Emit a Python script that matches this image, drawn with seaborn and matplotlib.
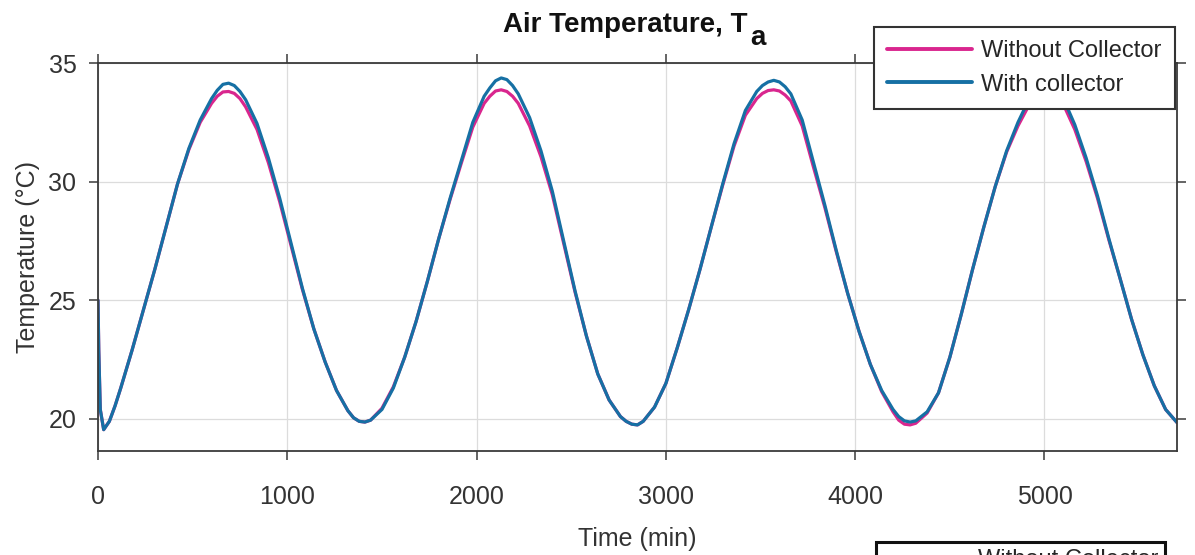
import matplotlib
matplotlib.use("Agg")
import matplotlib.pyplot as plt
import seaborn as sns
import pandas as pd

# ---- data (time in min, temperature in degC) ----
time_min = [0, 4, 12, 30, 60, 90, 120, 150, 180, 240,
            300, 360, 420, 480, 540, 600, 630, 660, 690, 720,
            750, 780, 840, 900, 960, 1020, 1080, 1140, 1200, 1260,
            1320, 1350, 1380, 1410, 1440, 1500, 1560, 1620, 1680, 1740,
            1800, 1860, 1920, 1980, 2040, 2070, 2100, 2130, 2160, 2190,
            2220, 2280, 2340, 2400, 2460, 2520, 2580, 2640, 2700, 2760,
            2790, 2820, 2850, 2880, 2940, 3000, 3060, 3120, 3180, 3240,
            3300, 3360, 3420, 3480, 3510, 3540, 3570, 3600, 3630, 3660,
            3720, 3780, 3840, 3900, 3960, 4020, 4080, 4140, 4200, 4230,
            4260, 4290, 4320, 4380, 4440, 4500, 4560, 4620, 4680, 4740,
            4800, 4860, 4920, 4950, 4980, 5010, 5040, 5070, 5100, 5160,
            5220, 5280, 5340, 5400, 5460, 5520, 5580, 5640, 5700]

with_collector = [25.0, 22.9, 20.4, 19.55, 19.9, 20.55, 21.3, 22.1, 22.9, 24.6,
                  26.3, 28.1, 29.9, 31.4, 32.6, 33.5, 33.85, 34.1, 34.15, 34.05,
                  33.8, 33.45, 32.45, 31.0, 29.3, 27.4, 25.5, 23.8, 22.4, 21.2,
                  20.35, 20.05, 19.9, 19.87, 19.95, 20.4, 21.3, 22.6, 24.1, 25.8,
                  27.6, 29.3, 30.9, 32.5, 33.6, 33.95, 34.25, 34.37, 34.3, 34.05,
                  33.7, 32.7, 31.3, 29.6, 27.5, 25.4, 23.5, 21.9, 20.8, 20.1,
                  19.9, 19.78, 19.75, 19.9, 20.5, 21.5, 23.0, 24.6, 26.3, 28.1,
                  29.9, 31.6, 33.0, 33.8, 34.05, 34.2, 34.27, 34.2, 34.0, 33.7,
                  32.6, 30.8, 29.0, 27.1, 25.3, 23.7, 22.3, 21.2, 20.4, 20.1,
                  19.92, 19.87, 19.92, 20.3, 21.1, 22.6, 24.4, 26.3, 28.1, 29.8,
                  31.3, 32.5, 33.5, 33.85, 34.05, 34.2, 34.1, 33.85, 33.5, 32.4,
                  31.0, 29.4, 27.6, 25.9, 24.2, 22.7, 21.4, 20.4, 19.85]

without_collector = [25.0, 22.9, 20.4, 19.55, 19.9, 20.55, 21.3, 22.1, 22.9, 24.6,
                     26.3, 28.1, 29.9, 31.35, 32.5, 33.3, 33.6, 33.78, 33.8, 33.72,
                     33.5, 33.15, 32.2, 30.8, 29.15, 27.3, 25.45, 23.8, 22.4, 21.2,
                     20.35, 20.05, 19.9, 19.87, 19.95, 20.45, 21.35, 22.6, 24.1, 25.8,
                     27.6, 29.25, 30.8, 32.3, 33.3, 33.6, 33.82, 33.87, 33.8, 33.6,
                     33.3, 32.35, 31.05, 29.45, 27.4, 25.35, 23.5, 21.9, 20.8, 20.1,
                     19.9, 19.78, 19.75, 19.9, 20.5, 21.5, 23.0, 24.6, 26.3, 28.1,
                     29.85, 31.5, 32.8, 33.5, 33.72, 33.84, 33.87, 33.82, 33.65, 33.4,
                     32.35, 30.6, 28.9, 27.05, 25.3, 23.7, 22.3, 21.15, 20.3, 19.95,
                     19.78, 19.75, 19.82, 20.25, 21.1, 22.6, 24.4, 26.3, 28.1, 29.8,
                     31.25, 32.35, 33.25, 33.55, 33.75, 33.88, 33.82, 33.6, 33.25, 32.2,
                     30.85, 29.3, 27.55, 25.9, 24.2, 22.7, 21.4, 20.4, 19.85]

series_names = ["Without Collector", "With collector"]
series_colors = ["#D9268E", "#1670A4"]
x_ticks = [0, 1000, 2000, 3000, 4000, 5000]
y_ticks = [20, 25, 30, 35]
title_main = "Air Temperature, T"
title_sub = "a"

sns.set_theme(style="white")
plt.rcParams["font.family"] = ["Liberation Sans", "DejaVu Sans"]

df = pd.DataFrame({
    "time": time_min * 2,
    "temp": without_collector + with_collector,
    "series": [series_names[0]] * len(time_min) + [series_names[1]] * len(time_min),
})

fig = plt.figure(figsize=(11.95, 5.55), dpi=100)
ax = fig.add_axes([98 / 1195, 1 - 451 / 555, (1177 - 98) / 1195, (451 - 63) / 555])

sns.lineplot(data=df, x="time", y="temp", hue="series", hue_order=series_names,
             palette=series_colors, linewidth=2.3, sort=False, estimator=None,
             ax=ax, legend=False)
for ln in ax.lines:
    ln.set_solid_joinstyle("round")
    ln.set_solid_capstyle("round")

ax.set_xlim(0, 5700)
ax.set_ylim(18.65, 35)
ax.set_xticks(x_ticks)
ax.set_yticks(y_ticks)
ax.grid(True, color="#DCDCDC", linewidth=0.9)
for s in ax.spines.values():
    s.set_visible(True)
    s.set_color("#3A3A3A")
    s.set_linewidth(1.3)
ax.tick_params(direction="out", length=6.5, width=1.1, color="#3A3A3A",
               labelsize=18, labelcolor="#333333",
               top=True, right=True, bottom=True, left=True)
ax.tick_params(axis="x", pad=18)
ax.tick_params(axis="y", pad=9)

ax.set_xlabel("Time (min)", fontsize=18, color="#333333", labelpad=13)
ax.set_ylabel("Temperature (°C)", fontsize=18, color="#333333", labelpad=6)

# title with a lowered full-size subscript, as in the reference
t_main = fig.text(503 / 1195, 1 - 32 / 555, title_main, fontsize=20,
                  fontweight="bold", color="#111111", ha="left", va="baseline")
fig.canvas.draw()
bb = t_main.get_window_extent()
fig.text((bb.x1 + 3) / 1195, 1 - 45 / 555, title_sub, fontsize=20,
         fontweight="bold", color="#111111", ha="left", va="baseline")

handles = [plt.Line2D([], [], color=c, linewidth=2.8) for c in series_colors]
leg = ax.legend(handles, series_names, loc="upper right",
                bbox_to_anchor=(0.998, 1.093), fontsize=17, frameon=True,
                fancybox=False, framealpha=1, edgecolor="#333333",
                handlelength=3.6, handletextpad=0.4, borderpad=0.55,
                labelspacing=0.5, borderaxespad=0)
leg.get_frame().set_linewidth(1.5)
leg.set_zorder(10)

leg2 = fig.legend(handles, series_names, loc="upper right",
                  bbox_to_anchor=(1165 / 1195, 1 - 542 / 555), fontsize=17,
                  frameon=True, fancybox=False, framealpha=1, edgecolor="#111111",
                  handlelength=3.6, handletextpad=0.4, borderpad=0.3,
                  labelspacing=0.5, borderaxespad=0)
leg2.get_frame().set_linewidth(2.2)

fig.savefig("out.png", dpi=100)
